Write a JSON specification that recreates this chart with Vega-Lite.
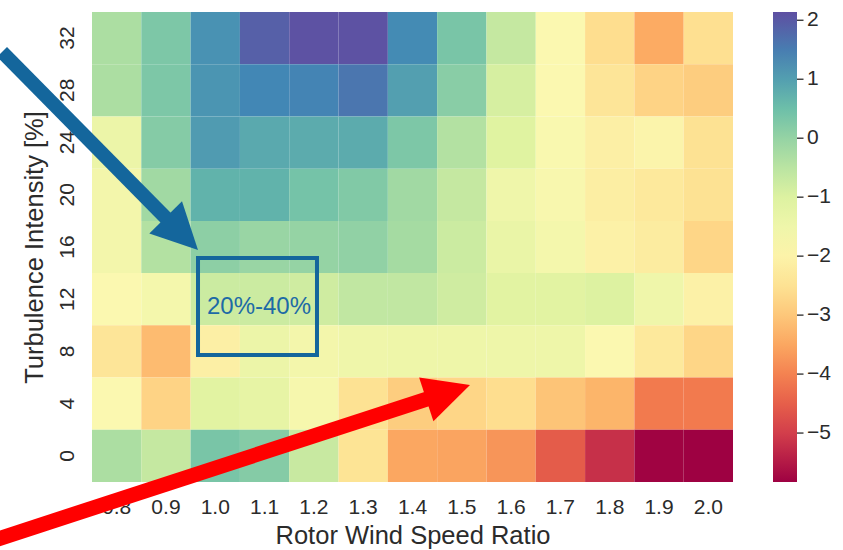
{
  "$schema": "https://vega.github.io/schema/vega-lite/v6.json",
  "width": 641,
  "height": 470,
  "autosize": "none",
  "padding": {"left": 92, "top": 12, "right": 110, "bottom": 68},
  "config": {
    "view": {"stroke": null},
    "font": "Liberation Sans",
    "axis": {"labelFont": "Liberation Sans", "titleFont": "Liberation Sans", "labelColor": "#2b2b2b", "titleColor": "#2b2b2b", "titleFontWeight": "normal", "zindex": 0},
    "legend": {"labelFont": "Liberation Sans", "labelColor": "#2b2b2b"}
  },
  "layer": [
    {
      "data": {"values": [
        {"r":0.8,"ti":32,"v":-0.3},{"r":0.9,"ti":32,"v":0.3},{"r":1.0,"ti":32,"v":1.2},{"r":1.1,"ti":32,"v":1.9},{"r":1.2,"ti":32,"v":2.1},{"r":1.3,"ti":32,"v":2.1},{"r":1.4,"ti":32,"v":1.3},{"r":1.5,"ti":32,"v":0.35},{"r":1.6,"ti":32,"v":-0.65},{"r":1.7,"ti":32,"v":-1.85},{"r":1.8,"ti":32,"v":-2.6},{"r":1.9,"ti":32,"v":-3.45},{"r":2.0,"ti":32,"v":-2.55},
        {"r":0.8,"ti":28,"v":-0.3},{"r":0.9,"ti":28,"v":0.3},{"r":1.0,"ti":28,"v":1.15},{"r":1.1,"ti":28,"v":1.35},{"r":1.2,"ti":28,"v":1.4},{"r":1.3,"ti":28,"v":1.6},{"r":1.4,"ti":28,"v":1.0},{"r":1.5,"ti":28,"v":0.15},{"r":1.6,"ti":28,"v":-0.9},{"r":1.7,"ti":28,"v":-1.85},{"r":1.8,"ti":28,"v":-2.4},{"r":1.9,"ti":28,"v":-2.8},{"r":2.0,"ti":28,"v":-2.9},
        {"r":0.8,"ti":24,"v":-1.4},{"r":0.9,"ti":24,"v":0.2},{"r":1.0,"ti":24,"v":1.05},{"r":1.1,"ti":24,"v":0.85},{"r":1.2,"ti":24,"v":0.82},{"r":1.3,"ti":24,"v":0.82},{"r":1.4,"ti":24,"v":0.3},{"r":1.5,"ti":24,"v":-0.4},{"r":1.6,"ti":24,"v":-1.05},{"r":1.7,"ti":24,"v":-1.8},{"r":1.8,"ti":24,"v":-2.1},{"r":1.9,"ti":24,"v":-1.95},{"r":2.0,"ti":24,"v":-2.5},
        {"r":0.8,"ti":20,"v":-1.6},{"r":0.9,"ti":20,"v":-0.15},{"r":1.0,"ti":20,"v":0.7},{"r":1.1,"ti":20,"v":0.7},{"r":1.2,"ti":20,"v":0.4},{"r":1.3,"ti":20,"v":0.25},{"r":1.4,"ti":20,"v":-0.15},{"r":1.5,"ti":20,"v":-0.65},{"r":1.6,"ti":20,"v":-1.5},{"r":1.7,"ti":20,"v":-1.75},{"r":1.8,"ti":20,"v":-2.15},{"r":1.9,"ti":20,"v":-2.3},{"r":2.0,"ti":20,"v":-2.5},
        {"r":0.8,"ti":16,"v":-1.6},{"r":0.9,"ti":16,"v":-0.4},{"r":1.0,"ti":16,"v":0.1},{"r":1.1,"ti":16,"v":-0.05},{"r":1.2,"ti":16,"v":0.0},{"r":1.3,"ti":16,"v":0.05},{"r":1.4,"ti":16,"v":-0.2},{"r":1.5,"ti":16,"v":-0.75},{"r":1.6,"ti":16,"v":-1.35},{"r":1.7,"ti":16,"v":-1.65},{"r":1.8,"ti":16,"v":-2.05},{"r":1.9,"ti":16,"v":-2.2},{"r":2.0,"ti":16,"v":-2.75},
        {"r":0.8,"ti":12,"v":-1.85},{"r":0.9,"ti":12,"v":-1.65},{"r":1.0,"ti":12,"v":-0.75},{"r":1.1,"ti":12,"v":-0.75},{"r":1.2,"ti":12,"v":-0.8},{"r":1.3,"ti":12,"v":-0.6},{"r":1.4,"ti":12,"v":-0.6},{"r":1.5,"ti":12,"v":-0.8},{"r":1.6,"ti":12,"v":-1.1},{"r":1.7,"ti":12,"v":-1.1},{"r":1.8,"ti":12,"v":-1.0},{"r":1.9,"ti":12,"v":-1.5},{"r":2.0,"ti":12,"v":-2.05},
        {"r":0.8,"ti":8,"v":-2.4},{"r":0.9,"ti":8,"v":-3.2},{"r":1.0,"ti":8,"v":-2.1},{"r":1.1,"ti":8,"v":-1.4},{"r":1.2,"ti":8,"v":-1.6},{"r":1.3,"ti":8,"v":-1.5},{"r":1.4,"ti":8,"v":-1.45},{"r":1.5,"ti":8,"v":-1.45},{"r":1.6,"ti":8,"v":-1.45},{"r":1.7,"ti":8,"v":-1.45},{"r":1.8,"ti":8,"v":-1.85},{"r":1.9,"ti":8,"v":-2.3},{"r":2.0,"ti":8,"v":-2.75},
        {"r":0.8,"ti":4,"v":-1.85},{"r":0.9,"ti":4,"v":-2.8},{"r":1.0,"ti":4,"v":-1.1},{"r":1.1,"ti":4,"v":-1.25},{"r":1.2,"ti":4,"v":-1.7},{"r":1.3,"ti":4,"v":-2.5},{"r":1.4,"ti":4,"v":-2.9},{"r":1.5,"ti":4,"v":-2.75},{"r":1.6,"ti":4,"v":-2.6},{"r":1.7,"ti":4,"v":-3.05},{"r":1.8,"ti":4,"v":-3.3},{"r":1.9,"ti":4,"v":-4.1},{"r":2.0,"ti":4,"v":-4.1},
        {"r":0.8,"ti":0,"v":-0.3},{"r":0.9,"ti":0,"v":-0.65},{"r":1.0,"ti":0,"v":0.35},{"r":1.1,"ti":0,"v":0.2},{"r":1.2,"ti":0,"v":-0.7},{"r":1.3,"ti":0,"v":-2.45},{"r":1.4,"ti":0,"v":-3.5},{"r":1.5,"ti":0,"v":-3.55},{"r":1.6,"ti":0,"v":-3.75},{"r":1.7,"ti":0,"v":-4.55},{"r":1.8,"ti":0,"v":-5.2},{"r":1.9,"ti":0,"v":-5.8},{"r":2.0,"ti":0,"v":-5.83}
      ]},
      "mark": {"type": "rect"},
      "encoding": {
        "x": {"field": "r", "type": "ordinal", "scale": {"paddingInner": 0, "paddingOuter": 0},
              "axis": {"title": "Rotor Wind Speed Ratio", "labelExpr": "format(datum.value, '.1f')", "labelAngle": 0, "ticks": false, "tickSize": 0, "domain": false, "labelFontSize": 21, "labelPadding": 14, "titleFontSize": 25.5, "titlePadding": 6, "zindex": 0}},
        "y": {"field": "ti", "type": "ordinal", "sort": "descending", "scale": {"paddingInner": 0, "paddingOuter": 0},
              "axis": {"title": "Turbulence Intensity [%]", "labelAngle": 270, "labelAlign": "center", "labelBaseline": "bottom", "ticks": false, "tickSize": 0, "domain": false, "labelFontSize": 21, "labelPadding": 15, "titleFontSize": 25.5, "titlePadding": 9, "zindex": 0}},
        "color": {"field": "v", "type": "quantitative", "scale": {"scheme": "spectral", "domain": [-5.83, 2.14], "nice": false},
                  "legend": {"title": null, "orient": "none", "legendX": 681, "legendY": 0, "direction": "vertical", "gradientLength": 470, "gradientThickness": 24, "values": [2, 1, 0, -1, -2, -3, -4, -5], "labelFontSize": 21, "labelOffset": 10, "gradientStrokeWidth": 0}}
      }
    },
    {
      "layer": [
        {
          "data": {"values": [{"ratio": 0.5675, "ti": 30.94, "ratio_end": 0.904, "ti_end": 18.07}]},
          "mark": {"type": "rule", "color": "#14669c", "strokeWidth": 14, "strokeCap": "butt"},
          "encoding": {
            "x": {"field": "ratio", "type": "quantitative", "scale": {"domain": [0.75, 2.05], "nice": false, "zero": false}, "axis": null},
            "y": {"field": "ti", "type": "quantitative", "scale": {"domain": [-2, 34], "nice": false, "zero": false}, "axis": null},
            "x2": {"field": "ratio_end"},
            "y2": {"field": "ti_end"}
          }
        },
        {
          "data": {"values": [{"ratio": 0.965, "ti": 15.77}]},
          "mark": {"type": "point", "shape": "M0,0L-1,2L1,2Z", "filled": true, "size": 2116, "angle": 135.3, "color": "#14669c", "opacity": 1, "strokeWidth": 0},
          "encoding": {
            "x": {"field": "ratio", "type": "quantitative"},
            "y": {"field": "ti", "type": "quantitative"}
          }
        },
        {
          "data": {"values": [{"ratio": 0.553, "ti": -6.44, "ratio_end": 1.4335, "ti_end": 4.41}]},
          "mark": {"type": "rule", "color": "#ff0000", "strokeWidth": 15, "strokeCap": "butt"},
          "encoding": {
            "x": {"field": "ratio", "type": "quantitative"},
            "y": {"field": "ti", "type": "quantitative"},
            "x2": {"field": "ratio_end"},
            "y2": {"field": "ti_end"}
          }
        },
        {
          "data": {"values": [{"ratio": 1.5166, "ti": 5.43}]},
          "mark": {"type": "point", "shape": "M0,0L-1,2L1,2Z", "filled": true, "size": 2116, "angle": 71.9, "color": "#ff0000", "opacity": 1, "strokeWidth": 0},
          "encoding": {
            "x": {"field": "ratio", "type": "quantitative"},
            "y": {"field": "ti", "type": "quantitative"}
          }
        },
        {
          "data": {"values": [{"ratio": 0.965, "ratio_end": 1.2063, "ti": 15.16, "ti_end": 7.73}]},
          "mark": {"type": "rect", "filled": false, "color": "#14669c", "strokeWidth": 4},
          "encoding": {
            "x": {"field": "ratio", "type": "quantitative"},
            "y": {"field": "ti", "type": "quantitative"},
            "x2": {"field": "ratio_end"},
            "y2": {"field": "ti_end"}
          }
        },
        {
          "data": {"values": [{"ratio": 1.0887, "ti": 11.4, "label": "20%-40%"}]},
          "mark": {"type": "text", "color": "#1d6aa6", "fontSize": 24, "font": "Liberation Sans", "align": "center", "baseline": "middle"},
          "encoding": {
            "x": {"field": "ratio", "type": "quantitative"},
            "y": {"field": "ti", "type": "quantitative"},
            "text": {"field": "label"}
          }
        }
      ]
    },
    {
      "data": {"values": [{"v": 2}, {"v": 1}, {"v": 0}, {"v": -1}, {"v": -2}, {"v": -3}, {"v": -4}, {"v": -5}]},
      "mark": {"type": "rule", "color": "#2b2b2b", "strokeWidth": 1.3},
      "encoding": {
        "y": {"field": "v", "type": "quantitative", "scale": {"domain": [-5.83, 2.14], "nice": false, "zero": false}, "axis": null},
        "x": {"datum": 2.1798, "type": "quantitative", "scale": {"domain": [0.75, 2.05], "nice": false, "zero": false}, "axis": null},
        "x2": {"datum": 2.193}
      }
    }
  ],
  "resolve": {"scale": {"x": "independent", "y": "independent"}, "axis": {"x": "independent", "y": "independent"}}
}
